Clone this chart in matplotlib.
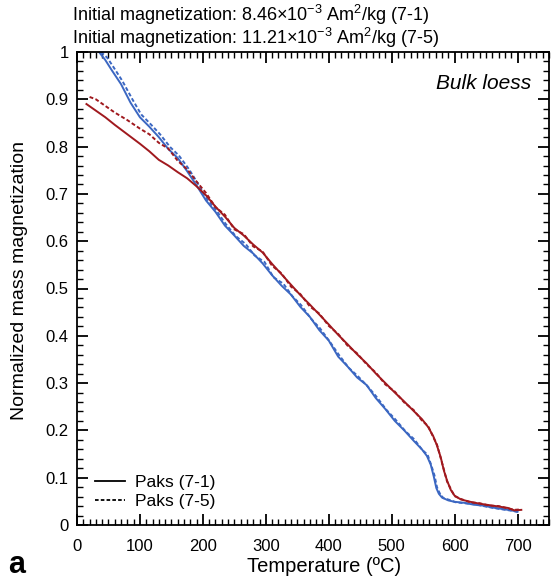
import matplotlib
matplotlib.use("Agg")
import matplotlib.pyplot as plt
from matplotlib.ticker import MultipleLocator

plt.rcParams['font.family'] = ['Liberation Sans', 'DejaVu Sans']
plt.rcParams['mathtext.fontset'] = 'custom'
plt.rcParams['mathtext.rm'] = 'Liberation Sans'
plt.rcParams['mathtext.it'] = 'Liberation Sans:italic'

# ---- data ----
blue1_T = [35, 45, 55, 70, 85, 100, 115, 130, 145, 160, 175, 190, 205, 220, 235, 250, 265, 280,
           295, 310, 325, 340, 355, 370, 385, 400, 415, 430, 445, 460, 475, 490, 505, 520,
           535, 548, 556, 562, 567, 571, 575, 580, 590, 600, 615, 630, 645, 660, 675, 690, 700]
blue1_M = [1.0, 0.983, 0.962, 0.932, 0.893, 0.862, 0.842, 0.820, 0.795, 0.776, 0.748, 0.718, 0.686, 0.662,
           0.633, 0.612, 0.590, 0.574, 0.553, 0.528, 0.506, 0.487, 0.461, 0.440, 0.412, 0.390, 0.356, 0.335,
           0.312, 0.296, 0.268, 0.245, 0.220, 0.200, 0.178, 0.160, 0.146, 0.128, 0.102, 0.078, 0.066,
           0.058, 0.052, 0.049, 0.047, 0.043, 0.041, 0.037, 0.034, 0.031, 0.028]

blue5_T = [38, 48, 58, 72, 88, 102, 118, 132, 148, 162, 178, 192, 206, 222, 236, 252, 268, 282,
           298, 312, 328, 342, 356, 372, 386, 402, 416, 432, 446, 462, 476, 492, 506, 522,
           536, 549, 557, 563, 568, 572, 576, 582, 592, 602, 616, 632, 646, 662, 676, 692, 702]
blue5_M = [1.0, 0.988, 0.968, 0.939, 0.900, 0.868, 0.846, 0.826, 0.799, 0.781, 0.752, 0.722, 0.690, 0.664,
           0.637, 0.611, 0.594, 0.570, 0.556, 0.524, 0.510, 0.484, 0.465, 0.436, 0.416, 0.387, 0.360, 0.332,
           0.315, 0.293, 0.271, 0.243, 0.223, 0.198, 0.181, 0.158, 0.149, 0.126, 0.105, 0.080, 0.068,
           0.057, 0.053, 0.048, 0.046, 0.044, 0.040, 0.036, 0.033, 0.030, 0.027]

red1_T = [15, 30, 45, 60, 80, 100, 115, 130, 145, 160, 175, 190, 205, 220, 235, 250, 265, 280,
          295, 310, 325, 340, 355, 370, 385, 400, 415, 430, 445, 460, 475, 490, 505, 520,
          535, 548, 558, 566, 572, 578, 583, 588, 594, 600, 610, 625, 640, 655, 670, 685, 695, 706]
red1_M = [0.890, 0.876, 0.862, 0.846, 0.826, 0.806, 0.790, 0.772, 0.760, 0.746, 0.733, 0.716, 0.697, 0.673,
          0.652, 0.628, 0.612, 0.593, 0.576, 0.552, 0.530, 0.508, 0.486, 0.466, 0.445, 0.424, 0.402, 0.382,
          0.361, 0.342, 0.320, 0.300, 0.280, 0.261, 0.241, 0.224, 0.207, 0.188, 0.168, 0.143, 0.115,
          0.094, 0.074, 0.062, 0.054, 0.049, 0.045, 0.042, 0.039, 0.036, 0.031, 0.032]

red5_T = [20, 30, 45, 60, 80, 100, 115, 130, 145, 160, 175, 190, 205, 220, 235, 250, 265, 280,
          295, 310, 325, 340, 355, 370, 385, 400, 415, 430, 445, 460, 475, 490, 505, 520,
          535, 548, 558, 566, 572, 578, 583, 588, 594, 600, 610, 625, 640, 655, 670, 685, 695, 705]
red5_M = [0.905, 0.900, 0.886, 0.872, 0.856, 0.838, 0.826, 0.808, 0.796, 0.770, 0.752, 0.726, 0.702, 0.672,
          0.656, 0.625, 0.615, 0.589, 0.578, 0.548, 0.532, 0.504, 0.488, 0.462, 0.447, 0.421, 0.404, 0.379,
          0.363, 0.340, 0.322, 0.297, 0.282, 0.259, 0.243, 0.221, 0.209, 0.186, 0.170, 0.141, 0.117,
          0.092, 0.076, 0.061, 0.055, 0.048, 0.046, 0.041, 0.040, 0.035, 0.032, 0.033]

x_ticks = [0, 100, 200, 300, 400, 500, 600, 700]
y_ticks = [0, 0.1, 0.2, 0.3, 0.4, 0.5, 0.6, 0.7, 0.8, 0.9, 1]
y_tick_labels = ['0', '0.1', '0.2', '0.3', '0.4', '0.5', '0.6', '0.7', '0.8', '0.9', '1']

BLUE = '#3b67c2'
RED = '#a0191e'

fig = plt.figure(figsize=(5.52, 5.81), dpi=100)
ax = fig.add_axes([77/552, 1 - 525/581, (549-77)/552, (525-52)/581])

ax.plot(blue1_T, blue1_M, color=BLUE, lw=1.4, solid_joinstyle='round')
ax.plot(blue5_T, blue5_M, color=BLUE, lw=1.4, ls=(0, (2, 1.2)))
ax.plot(red1_T, red1_M, color=RED, lw=1.4, solid_joinstyle='round')
ax.plot(red5_T, red5_M, color=RED, lw=1.4, ls=(0, (2, 1.2)))

# legend proxies
l1, = ax.plot([], [], color='black', lw=1.3, label='Paks (7-1)')
l2, = ax.plot([], [], color='black', lw=1.3, ls=(0, (2, 1.2)), label='Paks (7-5)')
ax.legend(handles=[l1, l2], loc='lower left', bbox_to_anchor=(0.012, 0.008), frameon=False,
          fontsize=12.5, handlelength=1.75, handletextpad=0.55, labelspacing=0.2,
          borderaxespad=0.3)

ax.set_xlim(0, 750)
ax.set_ylim(0, 1)
ax.set_xticks(x_ticks)
ax.set_yticks(y_ticks)
ax.set_yticklabels(y_tick_labels)
ax.xaxis.set_minor_locator(MultipleLocator(10))
ax.yaxis.set_minor_locator(MultipleLocator(0.02))
ax.tick_params(which='both', direction='in', top=True, right=True, labelsize=12, width=1.0)
ax.tick_params(which='major', length=8, width=1.3)
ax.tick_params(which='minor', length=4)
ax.tick_params(axis='x', pad=10)
ax.tick_params(axis='y', pad=6)
for s in ax.spines.values():
    s.set_linewidth(1.3)

ax.set_xlabel('Temperature (ºC)', fontsize=14.5)
ax.set_ylabel('Normalized mass magnetization', fontsize=14)
ax.xaxis.set_label_coords(0.523, -0.068)
ax.yaxis.set_label_coords(-0.104, 0.516)

ax.text(0.963, 0.953, 'Bulk loess', transform=ax.transAxes, ha='right', va='top',
        fontsize=15, style='italic')

fig.text(72/552, 1 - 15/581, r'Initial magnetization: 8.46×10$^{\mathregular{-3}}$ Am$^{\mathregular{2}}$/kg (7-1)',
         ha='left', va='center', fontsize=13)
fig.text(72/552, 1 - 38/581, r'Initial magnetization: 11.21×10$^{\mathregular{-3}}$ Am$^{\mathregular{2}}$/kg (7-5)',
         ha='left', va='center', fontsize=13)

fig.text(8/552, 1 - 565/581, 'a', fontsize=22, fontweight='bold', ha='left', va='center')

fig.savefig('out.png', dpi=100)
